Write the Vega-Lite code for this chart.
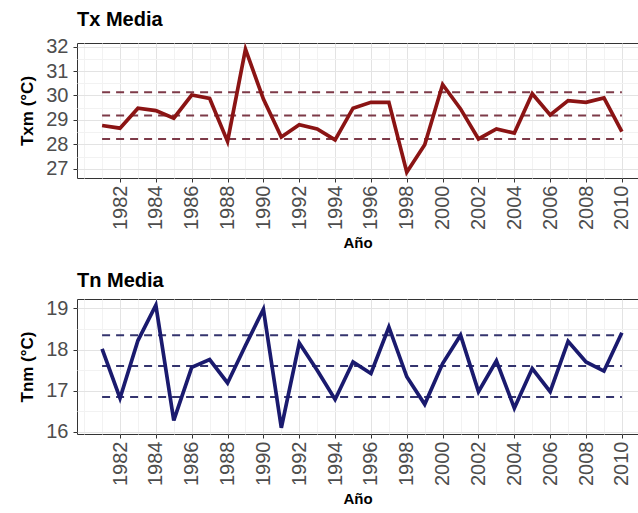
{
  "$schema": "https://vega.github.io/schema/vega-lite/v6.json",
  "background": "white",
  "padding": {"left": 18, "top": 9, "right": 0, "bottom": 0},
  "spacing": 19,
  "config": {
    "font": "Liberation Sans",
    "view": {"stroke": "#333333", "strokeWidth": 1},
    "axis": {
      "domain": false,
      "labelColor": "#4d4d4d",
      "labelFont": "Liberation Sans",
      "titleFont": "Liberation Sans",
      "titleColor": "#000000",
      "titleFontWeight": "bold",
      "titleFontSize": 15,
      "tickColor": "#333333",
      "tickSize": 4,
      "gridColor": "#e3e3e3",
      "gridWidth": 1
    },
    "title": {"anchor": "start", "frame": "group", "fontSize": 20, "fontWeight": "bold", "color": "#000000", "font": "Liberation Sans", "offset": 7}
  },
  "datasets": {
    "main": [
      {"year": 1981, "tx": 28.77, "tn": 18.02},
      {"year": 1982, "tx": 28.66, "tn": 16.82},
      {"year": 1983, "tx": 29.48, "tn": 18.22},
      {"year": 1984, "tx": 29.38, "tn": 19.08},
      {"year": 1985, "tx": 29.07, "tn": 16.28},
      {"year": 1986, "tx": 30.02, "tn": 17.57},
      {"year": 1987, "tx": 29.88, "tn": 17.76},
      {"year": 1988, "tx": 28.12, "tn": 17.19},
      {"year": 1989, "tx": 31.9, "tn": 18.1},
      {"year": 1990, "tx": 29.85, "tn": 18.98},
      {"year": 1991, "tx": 28.3, "tn": 16.1},
      {"year": 1992, "tx": 28.8, "tn": 18.16},
      {"year": 1993, "tx": 28.63, "tn": 17.5},
      {"year": 1994, "tx": 28.18, "tn": 16.79},
      {"year": 1995, "tx": 29.48, "tn": 17.7},
      {"year": 1996, "tx": 29.72, "tn": 17.42},
      {"year": 1997, "tx": 29.72, "tn": 18.55},
      {"year": 1998, "tx": 26.86, "tn": 17.34},
      {"year": 1999, "tx": 27.98, "tn": 16.67},
      {"year": 2000, "tx": 30.45, "tn": 17.66},
      {"year": 2001, "tx": 29.45, "tn": 18.35},
      {"year": 2002, "tx": 28.22, "tn": 16.98},
      {"year": 2003, "tx": 28.63, "tn": 17.73},
      {"year": 2004, "tx": 28.46, "tn": 16.58},
      {"year": 2005, "tx": 30.07, "tn": 17.54},
      {"year": 2006, "tx": 29.2, "tn": 16.98},
      {"year": 2007, "tx": 29.79, "tn": 18.2},
      {"year": 2008, "tx": 29.72, "tn": 17.7},
      {"year": 2009, "tx": 29.9, "tn": 17.48},
      {"year": 2010, "tx": 28.52, "tn": 18.41}
    ],
    "refs": [
      {"start": 1981, "end": 2010, "tx": 30.13, "tn": 18.35},
      {"start": 1981, "end": 2010, "tx": 29.18, "tn": 17.6},
      {"start": 1981, "end": 2010, "tx": 28.22, "tn": 16.85}
    ]
  },
  "vconcat": [
    {
      "title": "Tx Media",
      "width": 561,
      "height": 135,
      "resolve": {"axis": {"x": "independent", "y": "independent"}},
      "layer": [
        {
          "data": {"name": "main"},
          "mark": {"type": "line", "opacity": 0},
          "encoding": {
            "x": {"field": "year", "type": "quantitative", "scale": {"domain": [1979.6, 2010.9], "nice": false, "zero": false},
                  "axis": {"orient": "bottom", "values": [1980, 1981, 1983, 1985, 1987, 1989, 1991, 1993, 1995, 1997, 1999, 2001, 2003, 2005, 2007, 2009], "labels": false, "ticks": false, "title": null, "grid": true, "gridColor": "#f2f2f2"}},
            "y": {"field": "tx", "type": "quantitative", "scale": {"domain": [26.62, 32.15], "nice": false, "zero": false},
                  "axis": {"orient": "left", "values": [26.5, 27.5, 28.5, 29.5, 30.5, 31.5], "labels": false, "ticks": false, "title": null, "grid": true, "gridColor": "#f2f2f2"}}
          }
        },
        {
          "data": {"name": "refs"},
          "mark": {"type": "rule", "color": "#7d3a48", "strokeWidth": 2, "strokeDash": [8, 6]},
          "encoding": {
            "x": {"field": "start", "type": "quantitative", "axis": null},
            "x2": {"field": "end"},
            "y": {"field": "tx", "type": "quantitative", "axis": null}
          }
        },
        {
          "data": {"name": "main"},
          "mark": {"type": "line", "color": "#8b1414", "strokeWidth": 3.7},
          "encoding": {
            "x": {"field": "year", "type": "quantitative",
                  "axis": {"orient": "bottom", "values": [1982, 1984, 1986, 1988, 1990, 1992, 1994, 1996, 1998, 2000, 2002, 2004, 2006, 2008, 2010], "format": "d", "labelAngle": -90, "labelFontSize": 20, "labelPadding": 3, "title": "Año", "titlePadding": 6, "grid": true}},
            "y": {"field": "tx", "type": "quantitative",
                  "axis": {"orient": "left", "values": [27, 28, 29, 30, 31, 32], "labelFontSize": 20, "labelPadding": 5, "title": "Txm (°C)", "titleFontSize": 17, "titlePadding": 9, "grid": true}}
          }
        }
      ]
    },
    {
      "title": "Tn Media",
      "width": 561,
      "height": 135,
      "resolve": {"axis": {"x": "independent", "y": "independent"}},
      "layer": [
        {
          "data": {"name": "main"},
          "mark": {"type": "line", "opacity": 0},
          "encoding": {
            "x": {"field": "year", "type": "quantitative", "scale": {"domain": [1979.6, 2010.9], "nice": false, "zero": false},
                  "axis": {"orient": "bottom", "values": [1980, 1981, 1983, 1985, 1987, 1989, 1991, 1993, 1995, 1997, 1999, 2001, 2003, 2005, 2007, 2009], "labels": false, "ticks": false, "title": null, "grid": true, "gridColor": "#f2f2f2"}},
            "y": {"field": "tn", "type": "quantitative", "scale": {"domain": [15.95, 19.23], "nice": false, "zero": false},
                  "axis": {"orient": "left", "values": [16.5, 17.5, 18.5], "labels": false, "ticks": false, "title": null, "grid": true, "gridColor": "#f2f2f2"}}
          }
        },
        {
          "data": {"name": "refs"},
          "mark": {"type": "rule", "color": "#34346e", "strokeWidth": 2, "strokeDash": [8, 6]},
          "encoding": {
            "x": {"field": "start", "type": "quantitative", "axis": null},
            "x2": {"field": "end"},
            "y": {"field": "tn", "type": "quantitative", "axis": null}
          }
        },
        {
          "data": {"name": "main"},
          "mark": {"type": "line", "color": "#1a1a6e", "strokeWidth": 3.7},
          "encoding": {
            "x": {"field": "year", "type": "quantitative",
                  "axis": {"orient": "bottom", "values": [1982, 1984, 1986, 1988, 1990, 1992, 1994, 1996, 1998, 2000, 2002, 2004, 2006, 2008, 2010], "format": "d", "labelAngle": -90, "labelFontSize": 20, "labelPadding": 3, "title": "Año", "titlePadding": 6, "grid": true}},
            "y": {"field": "tn", "type": "quantitative",
                  "axis": {"orient": "left", "values": [16, 17, 18, 19], "labelFontSize": 20, "labelPadding": 5, "title": "Tnm (°C)", "titleFontSize": 17, "titlePadding": 9, "grid": true}}
          }
        }
      ]
    }
  ]
}
